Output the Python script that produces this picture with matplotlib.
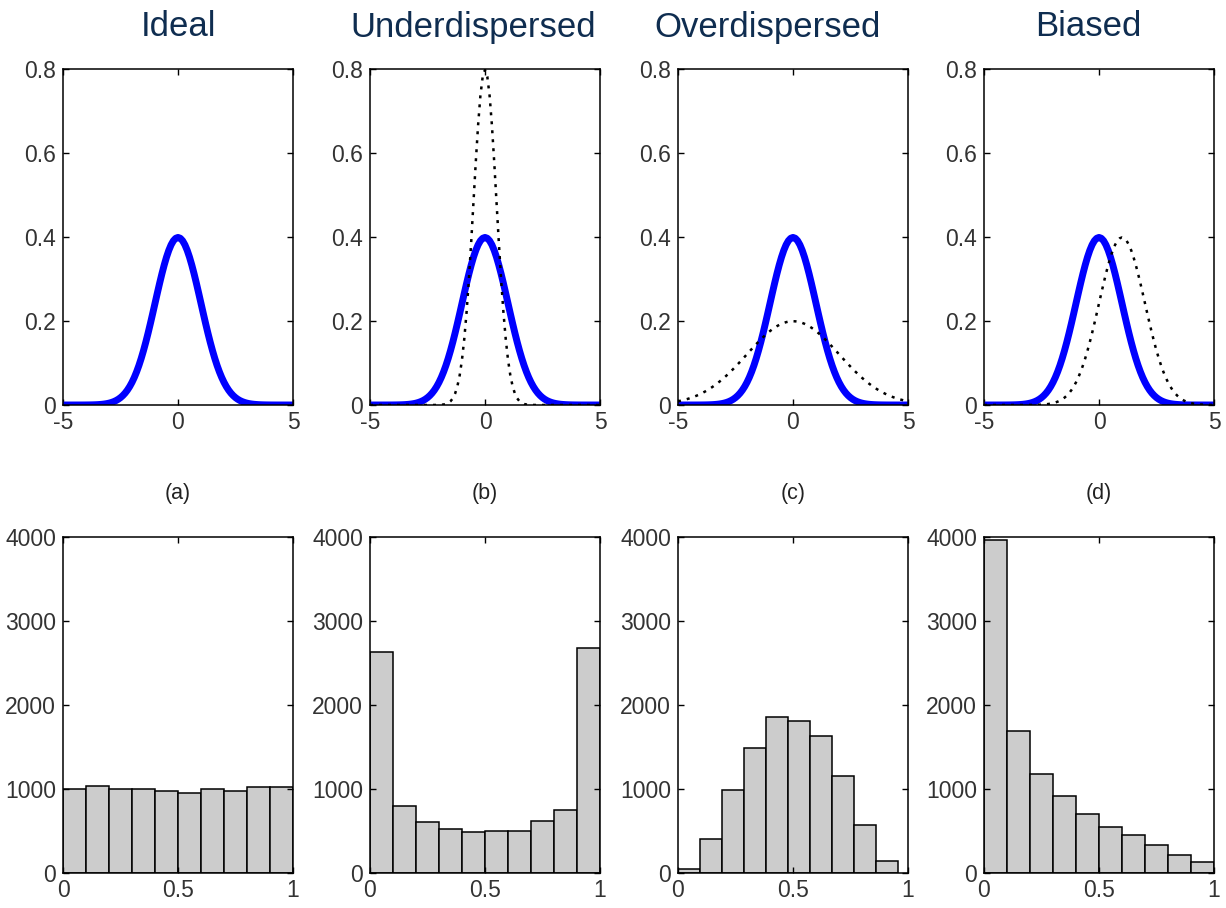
import numpy as np
import matplotlib
matplotlib.use("Agg")
import matplotlib.pyplot as plt

# panel titles and sub-labels
titles = ["Ideal", "Underdispersed", "Overdispersed", "Biased"]
letters = ["(a)", "(b)", "(c)", "(d)"]

# reference density (thick blue) and the predictive density per panel (dotted)
ref_mean, ref_sd = 0.0, 1.0
pred_means = [None, 0.0, 0.0, 1.0]
pred_sds = [None, 0.5, 2.0, 1.0]

# PIT histograms: bin edges and counts per panel
hist_edges = [
    np.linspace(0.0, 1.0, 11),
    np.linspace(0.0, 1.0, 11),
    np.linspace(0.0, 0.955, 11),
    np.linspace(0.0, 1.0, 11),
]
hist_counts = [
    [1000, 1032, 1000, 1000, 980, 952, 1004, 980, 1024, 1024],
    [2627, 794, 603, 524, 484, 500, 500, 619, 746, 2679],
    [48, 405, 984, 1492, 1857, 1810, 1635, 1159, 571, 143],
    [3960, 1690, 1183, 921, 706, 548, 452, 333, 214, 135],
]


def normal_pdf(x, mu, sd):
    return np.exp(-0.5 * ((x - mu) / sd) ** 2) / (sd * np.sqrt(2 * np.pi))


plt.rcParams["font.family"] = ["Liberation Sans", "DejaVu Sans"]
plt.rcParams["axes.unicode_minus"] = False

W, H = 1226, 908
fig = plt.figure(figsize=(W / 100, H / 100), dpi=100)

lefts = [63, 370, 678, 984]
title_x = [178, 473, 768, 1088]
ax_w = 230
tick_color = "#333333"


def style_axes(ax):
    ax.tick_params(direction="in", length=4, width=1, top=True, right=True,
                   labelsize=16.5, labelcolor=tick_color)
    ax.tick_params(axis="y", pad=5)
    ax.tick_params(axis="x", pad=4)
    for s in ax.spines.values():
        s.set_linewidth(1.1)


x = np.linspace(-5, 5, 101)
for i in range(4):
    # top row: densities
    ax = fig.add_axes([lefts[i] / W, 1 - 405 / H, ax_w / W, 336 / H])
    ax.plot(x, normal_pdf(x, ref_mean, ref_sd), color="#0000ff", lw=5,
            solid_capstyle="butt")
    if pred_means[i] is not None:
        ax.plot(x, normal_pdf(x, pred_means[i], pred_sds[i]), color="black",
                lw=1.8, linestyle=(0, (1.2, 2.4)))
    ax.set_xlim(-5, 5)
    ax.set_ylim(0, 0.8)
    ax.set_xticks([-5, 0, 5])
    ax.set_yticks([0, 0.2, 0.4, 0.6, 0.8])
    ax.set_yticklabels(["0", "0.2", "0.4", "0.6", "0.8"])
    style_axes(ax)

    fig.text(title_x[i] / W, 1 - 27 / H, titles[i], ha="center",
             va="center", fontsize=25, color="#0f2d50")
    fig.text((lefts[i] + ax_w / 2) / W, 1 - 494 / H, letters[i], ha="center",
             va="center", fontsize=15.5, color="#222222")

    # bottom row: PIT histograms
    bx = fig.add_axes([lefts[i] / W, 1 - 873 / H, ax_w / W, 336 / H])
    edges = hist_edges[i]
    bx.bar(edges[:-1], hist_counts[i], width=np.diff(edges), align="edge",
           color="#cccccc", edgecolor="black", linewidth=1.1)
    bx.set_xlim(0, 1)
    bx.set_ylim(0, 4000)
    bx.set_xticks([0, 0.5, 1])
    bx.set_xticklabels(["0", "0.5", "1"])
    bx.set_yticks([0, 1000, 2000, 3000, 4000])
    style_axes(bx)

fig.savefig("out.png", dpi=100)
